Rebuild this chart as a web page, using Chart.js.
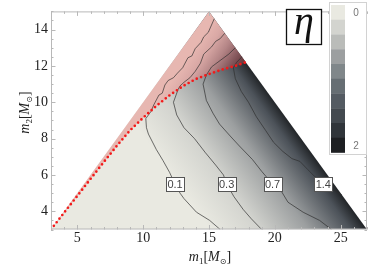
<!DOCTYPE html>
<html>
<head>
<meta charset="utf-8">
<script src="https://cdn.jsdelivr.net/npm/chart.js@4.4.0/dist/chart.umd.min.js"></script>
<style>
  html, body { margin: 0; padding: 0; background: #fff; }
</style>
</head>
<body>
<canvas id="etaChart" width="382" height="270"></canvas>
<script>
// allowed region: m2 <= m1 and m1 + m2 <= 30
const domainEdge = [[3, 3], [15, 15], [27, 3]];
const exclusionEdge = [[3, 3], [15, 15], [17.8, 12.2]];
const boundaryCurve = [[3, 3], [4, 3.93], [5, 4.85], [6, 5.78], [7, 6.7], [8, 7.6], [9, 8.45], [10, 9.15],
  [11, 9.8], [12, 10.38], [13, 10.88], [14, 11.28], [15, 11.55], [16, 11.8], [17, 12.0], [17.8, 12.2]];

// contour lines (m1, m2)
const contour01 = [[15.4, 14.6], [14.95, 13.85], [14.6, 13.6], [14.4, 13.3], [13.95, 12.95], [13.7, 12.55],
  [13.4, 12.45], [13.0, 11.9], [12.6, 11.6], [12.3, 11.35], [11.9, 11.2], [11.65, 10.95], [11.45, 10.5],
  [11.2, 10.4], [10.8, 9.85], [10.6, 9.5], [10.2, 9.1], [10.25, 8.6], [10.4, 8.25], [11.0, 7.4], [11.5, 6.8],
  [12.0, 6.15], [12.42, 5.5], [12.8, 5.0], [13.1, 4.7], [14.05, 3.95], [15.05, 3.5], [15.85, 3.0]];
const contour03 = [[16.2, 13.8], [15.85, 13.5], [15.5, 13.35], [15.2, 13.05], [14.6, 12.65], [14.35, 12.15],
  [13.95, 11.7], [13.55, 11.35], [13.1, 11.1], [12.8, 10.9], [12.65, 10.7], [12.3, 10.0], [12.55, 9.3],
  [13.1, 8.6], [13.9, 8.0], [14.7, 7.25], [15.5, 6.55], [16.1, 6.0], [16.34, 5.5], [16.9, 4.8], [17.6, 4.1],
  [18.2, 3.6], [19.0, 3.0]];
const contour07 = [[17.0, 13.0], [16.5, 12.65], [15.85, 12.3], [15.2, 11.95], [14.8, 11.5], [14.55, 11.0],
  [14.8, 10.1], [15.3, 9.4], [15.8, 8.8], [16.6, 8.15], [17.3, 7.6], [18.3, 6.85], [19.0, 6.2], [19.83, 5.5],
  [20.5, 5.1], [21.0, 4.5], [22.15, 3.95], [23.4, 3.5], [24.3, 3.0]];
const contour14 = [[17.5, 12.5], [17.1, 12.2], [16.85, 11.9], [17.0, 11.3], [17.45, 10.6], [18.0, 10.0],
  [18.6, 9.2], [19.3, 8.45], [19.9, 7.8], [20.6, 7.3], [21.3, 6.9], [21.9, 6.75], [22.5, 6.3], [23.05, 5.9],
  [23.68, 5.5], [24.44, 5.18], [25.1, 4.9]];

const contourLabels = ['0.1', '0.3', '0.7', '1.4'];
const labelM1 = [12.42, 16.34, 19.83, 23.68];
const labelM2 = [5.5, 5.5, 5.5, 5.5];

const xTickValues = [5, 10, 15, 20, 25];
const yTickValues = [4, 6, 8, 10, 12, 14];

// colour bar, eta from 0 to 2 in ten cells
const barColors = ['#e9e9e1', '#d3d4cf', '#babcb9', '#9c9fa0', '#80878a',
  '#666e73', '#545b62', '#43494f', '#30353a', '#1d1f22'];

const shadeFrom = [6.72, 8.08], shadeTo = [16.74, 13.3];
const shadeAt = [0.073, 0.22, 0.46, 0.71, 0.921, 1];
const shadeEta = [0, 0.1, 0.3, 0.7, 1.4, 1.85];
const pinkFrom = [12, 12], pinkTo = [15.76, 10.19];
const pinkAt = [0, 0.172, 0.387, 0.62, 0.868, 1];
const pinkEta = [0, 0.1, 0.3, 0.7, 1.4, 1.75];

function hexRgb(h) {
  return [parseInt(h.slice(1, 3), 16), parseInt(h.slice(3, 5), 16), parseInt(h.slice(5, 7), 16)];
}
function etaGray(eta) {
  let t = Math.min(Math.max((eta - 0.1) / 0.2, 0), barColors.length - 1);
  const i = Math.min(Math.floor(t), barColors.length - 2);
  const f = t - i;
  const a = hexRgb(barColors[i]), b = hexRgb(barColors[i + 1]);
  return a.map((v, k) => v + (b[k] - v) * f);
}
function rgb(c) { return 'rgb(' + c.map(Math.round).join(',') + ')'; }
function tinted(eta) {
  const g = etaGray(eta), tint = [228, 80, 80];
  return rgb(g.map((v, k) => v * 0.67 + tint[k] * 0.33));
}

function axisGradient(chart, from, to, at, cols) {
  const {ctx, chartArea, scales} = chart;
  if (!chartArea) return 'transparent';
  const g = ctx.createLinearGradient(
    scales.x.getPixelForValue(from[0]), scales.y.getPixelForValue(from[1]),
    scales.x.getPixelForValue(to[0]), scales.y.getPixelForValue(to[1]));
  at.forEach((s, i) => g.addColorStop(s, cols[i]));
  return g;
}

const pts = arr => arr.map(p => ({x: p[0], y: p[1]}));
const contourStyle = {borderColor: 'rgba(45,45,45,0.75)', borderWidth: 0.9, fill: false};

const datasets = [
  {data: pts(boundaryCurve), borderColor: '#f21a1a', borderWidth: 2.7, borderDash: [0, 4.6],
    borderCapStyle: 'round', fill: false},
  Object.assign({data: pts(contour01)}, contourStyle),
  Object.assign({data: pts(contour03)}, contourStyle),
  Object.assign({data: pts(contour07)}, contourStyle),
  Object.assign({data: pts(contour14)}, contourStyle),
  {data: pts(exclusionEdge), borderWidth: 0, fill: {target: 0},
    backgroundColor: c => axisGradient(c.chart, pinkFrom, pinkTo, pinkAt, pinkEta.map(tinted))},
  {data: pts(domainEdge), borderWidth: 0, fill: 'start',
    backgroundColor: c => axisGradient(c.chart, shadeFrom, shadeTo, shadeAt, shadeEta.map(e => rgb(etaGray(e))))}
];

const serif = '"Liberation Serif", "Times New Roman", serif';

const framePlugin = {
  id: 'frame',
  afterDatasetsDraw(chart) {
    const {ctx, chartArea: a, scales: {x, y}} = chart;
    ctx.save();
    ctx.strokeStyle = '#b8b8b8';
    ctx.lineWidth = 1;
    ctx.strokeRect(a.left + 0.5, a.top + 0.5, a.right - a.left - 1, a.bottom - a.top - 1);
    ctx.beginPath();
    for (let v = 3; v <= 27; v++) {
      const px = Math.round(x.getPixelForValue(v)) + 0.5;
      const len = v % 5 === 0 ? 4.5 : 2.5;
      ctx.moveTo(px, a.bottom); ctx.lineTo(px, a.bottom - len);
      ctx.moveTo(px, a.top); ctx.lineTo(px, a.top + len);
    }
    for (let v = 3; v <= 15; v += 0.5) {
      const py = Math.round(y.getPixelForValue(v)) + 0.5;
      const len = v % 2 === 0 ? 4.5 : 2.5;
      ctx.moveTo(a.left, py); ctx.lineTo(a.left + len, py);
      ctx.moveTo(a.right, py); ctx.lineTo(a.right - len, py);
    }
    ctx.stroke();

    // contour labels
    ctx.font = '11px "Liberation Sans", Arial, sans-serif';
    ctx.textAlign = 'center';
    ctx.textBaseline = 'middle';
    contourLabels.forEach((t, i) => {
      const cx = x.getPixelForValue(labelM1[i]), cy = y.getPixelForValue(labelM2[i]);
      const w = 18, h = 14;
      const lx = Math.round(cx - w / 2) + 0.5, ly = Math.round(cy - h / 2) + 0.5;
      ctx.fillStyle = '#fff';
      ctx.fillRect(lx, ly, w, h);
      ctx.strokeStyle = '#555';
      ctx.strokeRect(lx, ly, w, h);
      ctx.fillStyle = '#444';
      ctx.fillText(t, cx, cy + 0.5);
    });
    ctx.restore();
  }
};

function drawRich(ctx, parts, x, y, angle) {
  ctx.save();
  ctx.translate(x, y);
  ctx.rotate(angle);
  ctx.textAlign = 'left';
  ctx.textBaseline = 'alphabetic';
  ctx.fillStyle = '#222';
  let total = 0;
  parts.forEach(p => { ctx.font = p.font; total += ctx.measureText(p.text).width; });
  let cx = -total / 2;
  parts.forEach(p => {
    ctx.font = p.font;
    ctx.fillText(p.text, cx, p.dy || 0);
    cx += ctx.measureText(p.text).width;
  });
  ctx.restore();
}

function massTitle(sub) {
  return [
    {text: 'm', font: 'italic 14px ' + serif},
    {text: sub, font: '9px ' + serif, dy: 3},
    {text: '[', font: '14px ' + serif},
    {text: 'M', font: 'italic 14px ' + serif},
    {text: '\u2299', font: '8px "DejaVu Sans", sans-serif', dy: 3.5},
    {text: ']', font: '14px ' + serif}
  ];
}

const keyPlugin = {
  id: 'key',
  afterDraw(chart) {
    const {ctx} = chart;
    ctx.save();
    // colour bar
    ctx.fillStyle = '#fff';
    ctx.fillRect(329, 2, 38, 152.5);
    ctx.strokeStyle = '#d2d2d2';
    ctx.lineWidth = 1;
    ctx.strokeRect(329.5, 2.5, 37, 152);
    const cellH = 147.5 / barColors.length;
    barColors.forEach((c, i) => {
      ctx.fillStyle = c;
      ctx.fillRect(331, 5 + i * cellH, 14, cellH + 0.3);
    });
    ctx.fillStyle = '#777';
    ctx.font = '10px "Liberation Sans", Arial, sans-serif';
    ctx.textAlign = 'center';
    ctx.textBaseline = 'middle';
    ctx.fillText('0', 356, 13);
    ctx.fillText('2', 356, 146);

    // eta key
    ctx.fillStyle = '#fff';
    ctx.fillRect(286.5, 9.5, 35, 35);
    ctx.strokeStyle = '#111';
    ctx.lineWidth = 1.3;
    ctx.strokeRect(286.5, 9.5, 35, 35);
    ctx.fillStyle = '#111';
    ctx.font = 'italic 40px ' + serif;
    ctx.textAlign = 'center';
    ctx.textBaseline = 'alphabetic';
    ctx.fillText('\u03b7', 304, 33.5);
    ctx.restore();

    drawRich(ctx, massTitle('1'), 210, 260.5, 0);
    drawRich(ctx, massTitle('2'), 28.5, 112.5, -Math.PI / 2);
  }
};

new Chart(document.getElementById('etaChart'), {
  type: 'line',
  data: {datasets},
  options: {
    responsive: false,
    animation: false,
    devicePixelRatio: 1,
    layout: {padding: {top: 2, right: 15, left: 0, bottom: 0}},
    elements: {point: {radius: 0}, line: {tension: 0}},
    plugins: {legend: {display: false}, tooltip: {enabled: false}},
    scales: {
      x: {
        type: 'linear', min: 3, max: 27,
        grid: {display: false, drawTicks: false},
        border: {display: false},
        ticks: {autoSkip: false, maxRotation: 0, padding: 0,
          color: '#222', font: {family: serif, size: 14}},
        afterBuildTicks: s => { s.ticks = xTickValues.map(v => ({value: v})); },
        afterFit: s => { s.height = 40.5; }
      },
      y: {
        type: 'linear', min: 3, max: 15,
        grid: {display: false, drawTicks: false},
        border: {display: false},
        ticks: {autoSkip: false, padding: 3,
          color: '#222', font: {family: serif, size: 14}},
        afterBuildTicks: s => { s.ticks = yTickValues.map(v => ({value: v})); },
        afterFit: s => { s.width = 51; }
      }
    }
  },
  plugins: [framePlugin, keyPlugin]
});
</script>
</body>
</html>
